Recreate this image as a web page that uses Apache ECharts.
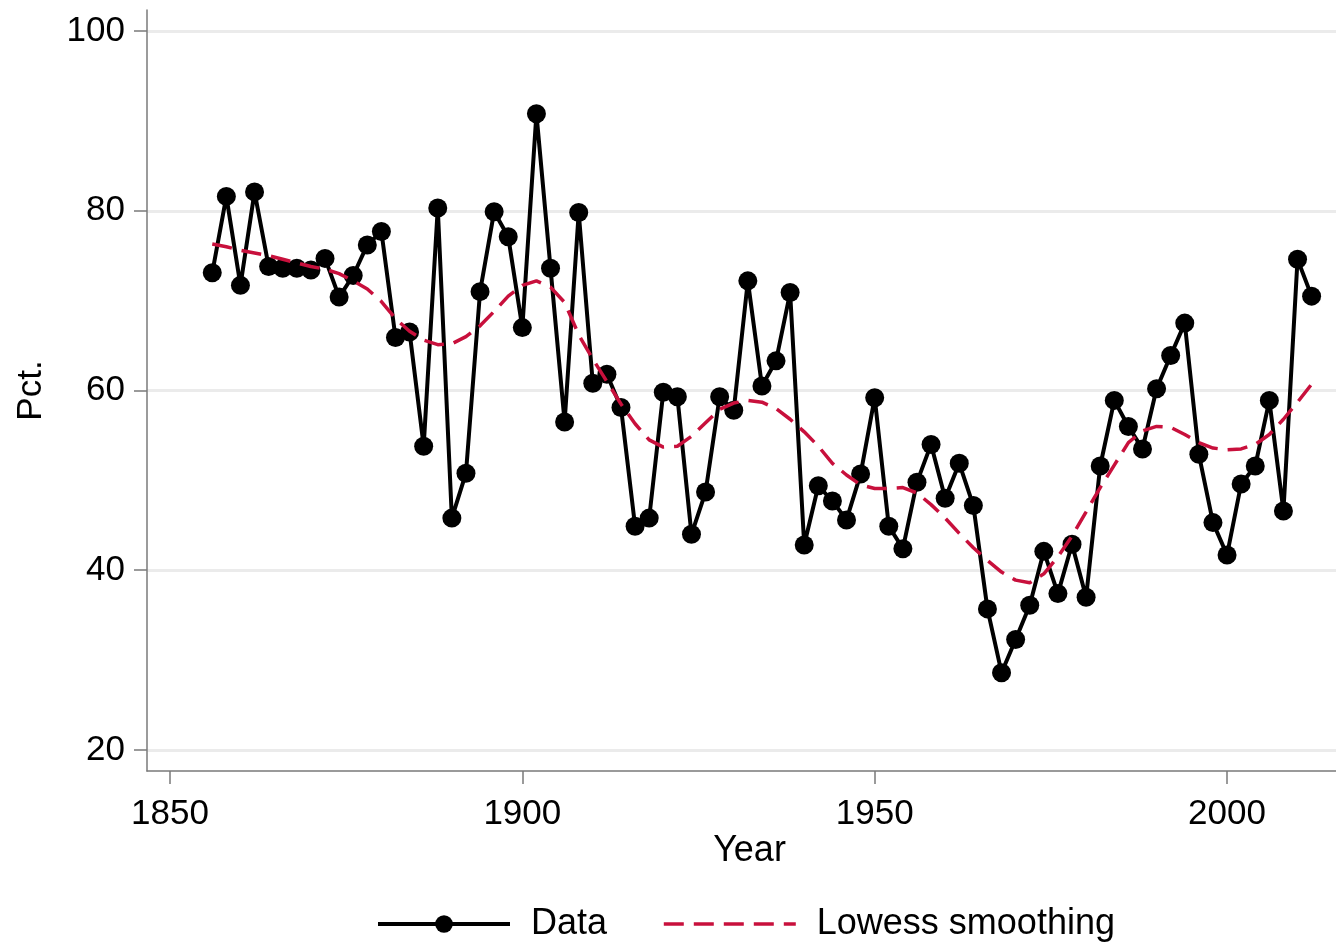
<!DOCTYPE html>
<html>
<head>
<meta charset="utf-8">
<title>Pct. by year</title>
<script src="https://cdn.jsdelivr.net/npm/echarts@6/dist/echarts.min.js"></script>
<style>
    html, body { margin: 0; padding: 0; background: #fff; }
    #chart { width: 1336px; height: 942px; }
</style>
</head>
<body>
<div id="chart"></div>
<script>
// data: one point every second year
const years = [];
for (let y = 1856; y <= 2012; y += 2) years.push(y);

const pct = [
    73.1, 81.6, 71.7, 82.1, 73.8, 73.6, 73.6, 73.4, 74.7, 70.4,
    72.8, 76.2, 77.7, 65.9, 66.5, 53.8, 80.3, 45.8, 50.8, 71.0,
    79.9, 77.1, 67.0, 90.8, 73.6, 56.5, 79.8, 60.8, 61.8, 58.1,
    44.9, 45.8, 59.8, 59.3, 44.0, 48.7, 59.3, 57.8, 72.2, 60.5,
    63.3, 70.9, 42.8, 49.4, 47.7, 45.6, 50.7, 59.2, 44.9, 42.4,
    49.8, 54.0, 48.0, 51.9, 47.2, 35.7, 28.6, 32.3, 36.1, 42.1,
    37.4, 42.9, 37.0, 51.6, 58.9, 56.0, 53.5, 60.2, 63.9, 67.5,
    52.9, 45.3, 41.7, 49.6, 51.6, 58.9, 46.6, 74.6, 70.5
];

const lowess = [
    76.3, 76.0, 75.6, 75.3, 75.0, 74.6, 74.2, 73.8, 73.5, 73.0,
    72.2, 71.3, 69.9, 68.0, 66.6, 65.6, 65.1, 65.2, 66.0, 67.2,
    68.8, 70.5, 71.7, 72.2, 71.5, 69.8, 66.2, 63.5, 61.0, 58.5,
    56.3, 54.5, 53.7, 53.8, 54.9, 56.4, 57.9, 58.6, 58.9, 58.7,
    58.0, 56.8, 55.4, 53.8, 51.9, 50.6, 49.5, 49.1, 49.1, 49.2,
    48.6, 47.3, 45.8, 44.1, 42.5, 41.1, 39.8, 38.9, 38.6, 39.6,
    41.5, 43.8, 46.5, 49.2, 51.7, 54.2, 55.5, 56.0, 55.9, 55.1,
    54.2, 53.6, 53.4, 53.5, 54.0, 55.1, 56.8, 58.7, 60.7
];

const xTicks = [1850, 1900, 1950, 2000];
const yTicks = [20, 40, 60, 80, 100];

const FONT = '"Liberation Sans", Arial, sans-serif';
const AXIS_GRAY = '#7a7a7a';
const LOWESS_RED = '#c8103c';

const chart = echarts.init(document.getElementById('chart'));

const option = {
    backgroundColor: '#fff',
    animation: false,
    textStyle: { fontFamily: FONT },
    grid: {
        left: 147,
        right: 0,
        top: 10,
        bottom: 171
    },
    legend: {
        left: 376,
        top: 906,
        padding: 0,
        itemWidth: 132,
        itemHeight: 22,
        itemGap: 55,
        lineStyle: { width: 'inherit' },
        textStyle: {
            fontSize: 36,
            color: '#000',
            padding: [0, 0, 0, 16]
        },
        data: [
            { name: 'Data' },
            { name: 'Lowess smoothing', itemStyle: { opacity: 0 } }
        ]
    },
    xAxis: {
        type: 'value',
        min: 1846.74,
        max: 2015.46,
        name: 'Year',
        nameLocation: 'middle',
        nameGap: 62,
        nameMoveOverlap: false,
        nameTextStyle: { fontSize: 36, color: '#000', padding: [0, 0, 0, 16] },
        axisLine: { show: true, lineStyle: { color: AXIS_GRAY, width: 1.5 } },
        axisTick: {
            show: true,
            length: 13,
            customValues: xTicks,
            lineStyle: { color: AXIS_GRAY, width: 1.5 }
        },
        axisLabel: {
            customValues: xTicks,
            formatter: function (v) { return String(v); },
            fontSize: 35,
            color: '#000',
            margin: 26
        },
        splitLine: { show: false }
    },
    yAxis: {
        type: 'value',
        min: 17.66,
        max: 102.34,
        name: 'Pct.',
        nameLocation: 'middle',
        nameGap: 98,
        nameRotate: 90,
        nameTextStyle: { fontSize: 35, color: '#000' },
        axisLine: { show: true, lineStyle: { color: AXIS_GRAY, width: 1.5 } },
        axisTick: {
            show: true,
            length: 13,
            customValues: yTicks,
            lineStyle: { color: AXIS_GRAY, width: 1.5 }
        },
        axisLabel: {
            customValues: yTicks,
            fontSize: 35,
            color: '#000',
            margin: 22
        },
        splitLine: { show: true, lineStyle: { color: '#ebebeb', width: 3 } }
    },
    series: [
        {
            name: 'Data',
            type: 'line',
            data: years.map((y, i) => [y, pct[i]]),
            symbol: 'circle',
            symbolSize: 19,
            showAllSymbol: true,
            lineStyle: { color: '#000', width: 4 },
            itemStyle: { color: '#000' },
            z: 3
        },
        {
            name: 'Lowess smoothing',
            type: 'line',
            data: years.map((y, i) => [y, lowess[i]]),
            symbol: 'none',
            lineStyle: { color: LOWESS_RED, width: 3.5, type: [20, 10] },
            itemStyle: { color: LOWESS_RED },
            z: 4
        }
    ]
};

chart.setOption(option);

window.addEventListener('resize', function () {
    chart.resize();
});
</script>
</body>
</html>
